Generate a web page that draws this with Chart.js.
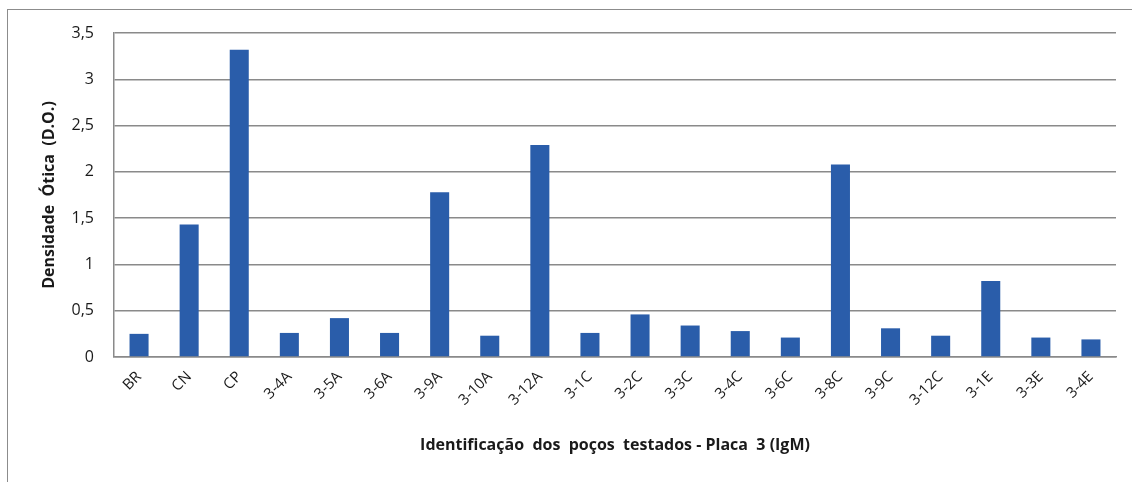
<!DOCTYPE html>
<html>
<head>
<meta charset="utf-8">
<script src="https://cdn.jsdelivr.net/npm/chart.js@4/dist/chart.umd.min.js"></script>
<style>
  html, body { margin: 0; padding: 0; background: #ffffff; }
  #wrap { width: 1132px; height: 482px; position: relative; }
</style>
</head>
<body>
<div id="wrap"><canvas id="c" width="1132" height="482"></canvas></div>
<script>
// Poços testados (placa 3, IgM) e densidade ótica medida
const categories = ['BR', 'CN', 'CP', '3-4A', '3-5A', '3-6A', '3-9A', '3-10A', '3-12A', '3-1C',
                    '3-2C', '3-3C', '3-4C', '3-6C', '3-8C', '3-9C', '3-12C', '3-1E', '3-3E', '3-4E'];
const densidade = [0.25, 1.43, 3.32, 0.26, 0.42, 0.26, 1.78, 0.23, 2.29, 0.26,
                   0.46, 0.34, 0.28, 0.21, 2.08, 0.31, 0.23, 0.82, 0.21, 0.19];
const yTicks = [0, 0.5, 1, 1.5, 2, 2.5, 3, 3.5];

const FONT = "'Open Sans', 'Liberation Sans', sans-serif";
const GRID = '#8a8a8a';

// moldura externa da área do gráfico
const frame = {
  id: 'frame',
  beforeDraw(chart) {
    const ctx = chart.ctx;
    ctx.save();
    ctx.strokeStyle = '#8c8c8c';
    ctx.lineWidth = 1;
    ctx.strokeRect(7.5, 9.5, 1140, 500);
    ctx.restore();
  }
};

new Chart(document.getElementById('c'), {
  type: 'bar',
  data: {
    labels: categories,
    datasets: [{
      data: densidade,
      backgroundColor: '#2a5daa',
      borderWidth: 0,
      categoryPercentage: 1,
      barPercentage: 0.38
    }]
  },
  options: {
    responsive: false,
    animation: false,
    layout: { padding: { left: 40, right: 16, top: 33, bottom: 27 } },
    plugins: { legend: { display: false }, tooltip: { enabled: false } },
    scales: {
      x: {
        grid: { display: false, drawTicks: false },
        border: { display: true, color: GRID, width: 1.5 },
        ticks: {
          color: '#1a1a1a',
          font: { family: FONT, size: 15 },
          minRotation: 45, maxRotation: 45,
          padding: 11,
          autoSkip: false
        },
        title: {
          display: true,
          text: 'Identificação  dos  poços  testados - Placa  3 (IgM)',
          color: '#1a1a1a',
          font: { family: FONT, size: 16, weight: 'bold' },
          padding: 0
        },
        afterFit(scale) { scale.height = 98; }
      },
      y: {
        min: 0, max: 3.5,
        afterBuildTicks(scale) { scale.ticks = yTicks.map(v => ({ value: v })); },
        grid: { color: GRID, lineWidth: 1.5, drawTicks: false, tickLength: 0 },
        border: { display: true, color: GRID, width: 1.5 },
        ticks: {
          color: '#1a1a1a',
          font: { family: FONT, size: 16 },
          padding: 20,
          callback: v => String(v).replace('.', ',')
        },
        title: {
          display: true,
          text: 'Densidade  Ótica  (D.O.)',
          color: '#1a1a1a',
          font: { family: FONT, size: 16, weight: 'bold' },
          padding: 0
        },
        afterFit(scale) { scale.width = 74; }
      }
    }
  },
  plugins: [frame]
});
</script>
</body>
</html>
